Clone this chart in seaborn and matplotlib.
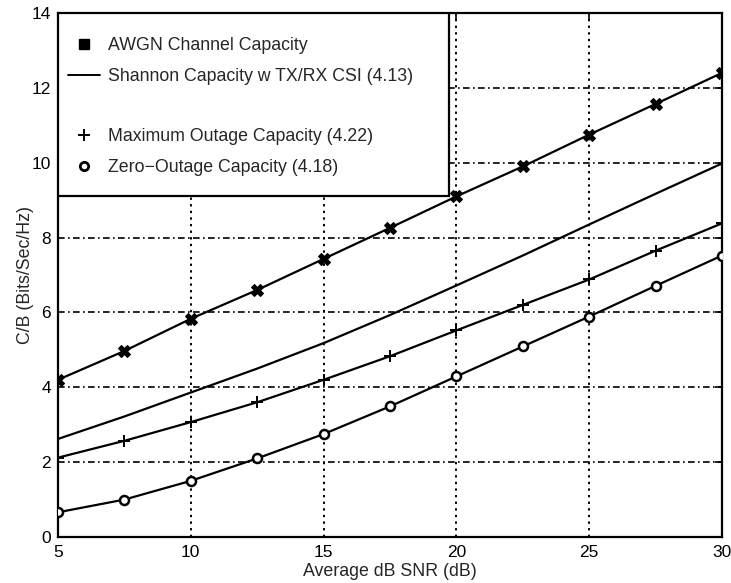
import matplotlib
matplotlib.use("Agg")
import matplotlib.pyplot as plt
from matplotlib.lines import Line2D
from matplotlib.patches import Rectangle
import seaborn as sns
import pandas as pd

snr_db = [5, 7.5, 10, 12.5, 15, 17.5, 20, 22.5, 25, 27.5, 30]
awgn = [4.2, 4.97, 5.83, 6.6, 7.43, 8.26, 9.1, 9.9, 10.75, 11.57, 12.4]
shannon = [2.62, 3.22, 3.86, 4.5, 5.18, 5.93, 6.72, 7.52, 8.35, 9.17, 9.98]
max_outage = [2.12, 2.57, 3.07, 3.6, 4.2, 4.83, 5.52, 6.2, 6.88, 7.65, 8.38]
zero_outage = [0.66, 1.0, 1.5, 2.1, 2.75, 3.49, 4.29, 5.09, 5.89, 6.71, 7.52]

labels = ["AWGN Channel Capacity",
          "Shannon Capacity w TX/RX CSI (4.13)",
          "Maximum Outage Capacity (4.22)",
          "Zero\u2212Outage Capacity (4.18)"]
xticks = [5, 10, 15, 20, 25, 30]
yticks = [0, 2, 4, 6, 8, 10, 12, 14]

sns.set_style("white")
plt.rcParams["font.family"] = ["Liberation Sans", "DejaVu Sans"]

fig = plt.figure(figsize=(7.31, 5.83), dpi=100)
ax = fig.add_axes([58/731, 46/583, 664/731, 524/583])

series = [awgn, shannon, max_outage, zero_outage]
styles = [
    dict(marker="X", markersize=8, markerfacecolor="black", markeredgecolor="black"),
    dict(marker=None),
    dict(marker="+", markersize=9, markeredgewidth=1.4, markeredgecolor="black"),
    dict(marker="o", markersize=6.5, markerfacecolor="white", markeredgecolor="black", markeredgewidth=1.8),
]
for vals, lab, st in zip(series, labels, styles):
    df = pd.DataFrame({"snr": snr_db, "cap": vals})
    sns.lineplot(data=df, x="snr", y="cap", ax=ax, color="black", linewidth=1.6,
                 legend=False, zorder=5, **st)

ax.set_xlim(5, 30)
ax.set_ylim(0, 14)
ax.set_xticks(xticks)
ax.set_yticks(yticks)
ax.tick_params(axis="both", direction="in", length=5, width=1.2, labelsize=12.5,
               top=True, right=True, colors="black")
ax.tick_params(axis="x", pad=6)
ax.tick_params(axis="y", pad=5)
for sp in ax.spines.values():
    sp.set_visible(True)
    sp.set_color("black")
    sp.set_linewidth(1.6)

for x in xticks[1:-1]:
    ax.axvline(x, color="black", linestyle=(0, (1.2, 2.2)), linewidth=1.4, zorder=1)
for y in yticks[1:-1]:
    ax.axhline(y, color="black", linestyle=(0, (4, 2, 1, 2)), linewidth=1.2, zorder=1)

ax.set_xlabel("Average dB SNR (dB)", fontsize=12.8, labelpad=2)
ax.set_ylabel("C/B (Bits/Sec/Hz)", fontsize=12.8, labelpad=-2)

# legend box
ax.add_patch(Rectangle((0, 1 - 183/524), 391/664, 183/524, transform=ax.transAxes,
                       facecolor="white", edgecolor="black", linewidth=1.6, zorder=3))
handles = [
    Line2D([], [], color="black", linestyle="none", marker="s", markersize=7),
    Line2D([], [], color="black", linewidth=1.4),
    Line2D([], [], linestyle="none"),
    Line2D([], [], color="black", linestyle="none", marker="+", markersize=9, markeredgewidth=1.4),
    Line2D([], [], color="black", linestyle="none", marker="o", markersize=6,
           markerfacecolor="white", markeredgewidth=2),
]
leg_labels = [labels[0], labels[1], " ", labels[2], labels[3]]
leg = ax.legend(handles, leg_labels, loc="upper left", bbox_to_anchor=(-0.003, 0.977),
                frameon=False, fontsize=12.8, handlelength=1.8, handletextpad=0.45,
                labelspacing=0.75, borderaxespad=0.3)
leg.set_zorder(4)

fig.savefig("out.png", dpi=100)
